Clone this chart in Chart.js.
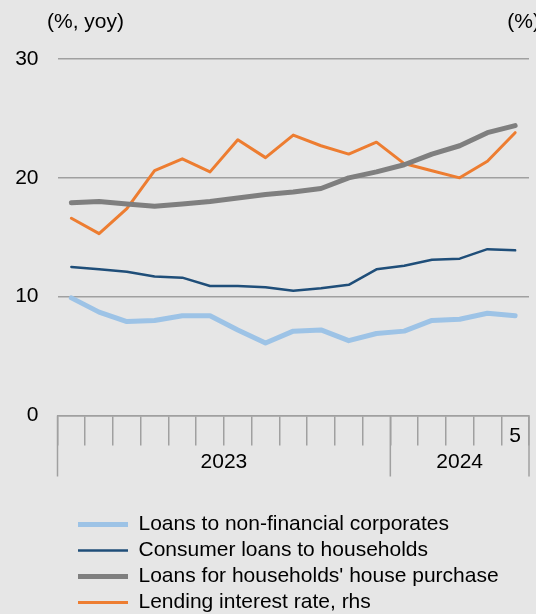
<!DOCTYPE html>
<html>
<head>
<meta charset="utf-8">
<script src="https://cdn.jsdelivr.net/npm/chart.js@4"></script>
<style>
  html, body { margin: 0; padding: 0; background: #e6e6e6; overflow: hidden; }
  #wrap { width: 536px; height: 623px; position: relative; }
</style>
</head>
<body>
<div id="wrap"><canvas id="loansChart"></canvas></div>
<script>
// months Jan 2023 .. May 2024
const months = ['Jan 2023', 'Feb 2023', 'Mar 2023', 'Apr 2023', 'May 2023', 'Jun 2023',
    'Jul 2023', 'Aug 2023', 'Sep 2023', 'Oct 2023', 'Nov 2023', 'Dec 2023',
    'Jan 2024', 'Feb 2024', 'Mar 2024', 'Apr 2024', 'May 2024'];
const tickLabels = ['', '', '', '', '', '', '', '', '', '', '', '', '', '', '', '', '5'];
const years = ['2023', '2024'];
const yearStart = [0, 12];

const corporates = [9.9, 8.7, 7.9, 8.0, 8.4, 8.4, 7.2, 6.1, 7.1, 7.2, 6.3, 6.9, 7.1, 8.0, 8.1, 8.6, 8.4];
const consumer = [12.5, 12.3, 12.1, 11.7, 11.6, 10.9, 10.9, 10.8, 10.5, 10.7, 11.0, 12.3, 12.6, 13.1, 13.2, 14.0, 13.9];
const housePurchase = [17.9, 18.0, 17.8, 17.6, 17.8, 18.0, 18.3, 18.6, 18.8, 19.1, 20.0, 20.5, 21.1, 22.0, 22.7, 23.8, 24.4];
const lendingRate = [16.6, 15.3, 17.4, 20.6, 21.6, 20.5, 23.2, 21.7, 23.6, 22.7, 22.0, 23.0, 21.2, 20.6, 20.0, 21.4, 23.8];

const FONT = "'Liberation Sans', Arial, sans-serif";
const FSIZE = 21;
const GRID = '#a0a0a0';

// extra text, year separators and year labels
const extras = {
    id: 'extras',
    afterLayout(chart) {
        // legend entries start a bit right of the plot edge
        chart.legend.left = chart.chartArea.left + 15.5;
    },
    afterDraw(chart) {
        const ctx = chart.ctx;
        const x = chart.scales.x;
        const area = chart.chartArea;
        ctx.save();
        ctx.font = FSIZE + 'px ' + FONT;
        ctx.fillStyle = '#000';
        ctx.textBaseline = 'middle';
        ctx.textAlign = 'left';
        ctx.fillText('(%, yoy)', 47, 22);
        ctx.textAlign = 'right';
        ctx.fillText('(%)', 540, 22);

        // year boundaries
        const half = (x.getPixelForValue(1) - x.getPixelForValue(0)) / 2;
        const edges = yearStart.map(i => x.getPixelForValue(i) - half);
        edges.push(x.getPixelForValue(months.length - 1) + half);
        ctx.strokeStyle = GRID;
        ctx.lineWidth = 1.5;
        edges.forEach(px => {
            ctx.beginPath();
            ctx.moveTo(px, area.bottom);
            ctx.lineTo(px, area.bottom + 61);
            ctx.stroke();
        });
        ctx.textAlign = 'center';
        years.forEach((y, i) => {
            ctx.fillText(y, (edges[i] + edges[i + 1]) / 2, area.bottom + 47);
        });
        ctx.restore();
    }
};

new Chart(document.getElementById('loansChart'), {
    type: 'line',
    data: {
        labels: months,
        datasets: [
            {
                label: 'Loans to non-financial corporates',
                data: corporates,
                borderColor: '#9dc3e6',
                backgroundColor: '#9dc3e6',
                borderWidth: 5,
                yAxisID: 'y'
            },
            {
                label: 'Consumer loans to households',
                data: consumer,
                borderColor: '#1f4e79',
                backgroundColor: '#1f4e79',
                borderWidth: 2.5,
                yAxisID: 'y'
            },
            {
                label: "Loans for households' house purchase",
                data: housePurchase,
                borderColor: '#7f7f7f',
                backgroundColor: '#7f7f7f',
                borderWidth: 5,
                yAxisID: 'y'
            },
            {
                label: 'Lending interest rate, rhs',
                data: lendingRate,
                borderColor: '#ed7d31',
                backgroundColor: '#ed7d31',
                borderWidth: 3,
                yAxisID: 'y1'
            }
        ]
    },
    options: {
        responsive: true,
        maintainAspectRatio: false,
        animation: false,
        devicePixelRatio: 1,
        elements: {
            point: { radius: 0 },
            line: { tension: 0, borderCapStyle: 'round', borderJoinStyle: 'round' }
        },
        layout: { padding: { top: 59, left: 0, right: 7, bottom: 0 } },
        plugins: {
            tooltip: { enabled: false },
            legend: {
                position: 'bottom',
                align: 'start',
                fullSize: false,
                labels: {
                    usePointStyle: true,
                    pointStyle: 'line',
                    pointStyleWidth: 50,
                    padding: 5,
                    color: '#000',
                    font: { family: FONT, size: FSIZE, lineHeight: 1 }
                }
            }
        },
        scales: {
            x: {
                offset: true,
                grid: {
                    offset: true,
                    drawOnChartArea: false,
                    tickLength: 30,
                    color: GRID,
                    lineWidth: 1.5
                },
                border: { display: true, color: GRID, width: 1.5 },
                ticks: {
                    autoSkip: false,
                    maxRotation: 0,
                    padding: -22,
                    color: '#000',
                    font: { family: FONT, size: FSIZE },
                    callback: (v, i) => tickLabels[i]
                },
                afterFit: s => { s.height = 93.5; }
            },
            y: {
                min: 0,
                max: 30,
                ticks: {
                    stepSize: 10,
                    padding: 19,
                    color: '#000',
                    font: { family: FONT, size: FSIZE }
                },
                grid: { color: GRID, lineWidth: 1.5, drawTicks: false },
                border: { display: false },
                afterFit: s => { s.width = 57.5; }
            },
            y1: {
                position: 'right',
                min: 0,
                max: 30,
                display: false
            }
        }
    },
    plugins: [extras]
});
</script>
</body>
</html>
